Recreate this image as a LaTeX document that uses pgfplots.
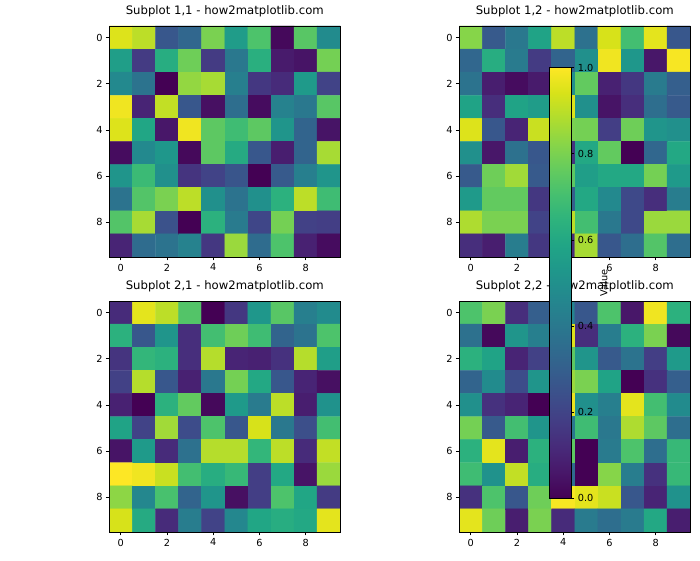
\documentclass[border=0pt]{standalone}
\usepackage{fontspec}
\setmainfont{DejaVu Sans}
\usepackage{pgfplots}
\pgfplotsset{compat=1.18}
\pgfplotsset{
  hm/.style={
    scale only axis, width=237.6pt, height=237.6pt,
    xmin=-0.5, xmax=9.5, ymin=-0.5, ymax=9.5,
    y dir=reverse, enlargelimits=false, axis on top,
    xtick={0,2,4,6,8}, ytick={0,2,4,6,8},
    tick align=outside, tick pos=left, major tick length=3.5pt,
    tick style={black, line width=0.8pt},
    axis line style={black, line width=0.8pt},
    colormap/viridis, point meta min=0, point meta max=1,
    /pgf/number format/assume math mode=true,
    tick label style={font=\fontsize{10}{12}\selectfont},
    title style={font=\fontsize{12}{14}\selectfont, at={(0.5,1)}, anchor=base, yshift=6pt},
  },
  hmplot/.style={matrix plot*, point meta=explicit, mesh/cols=10},
}
\begin{document}
\begin{tikzpicture}
\path[use as bounding box] (0,0) rectangle (720pt,576pt);

\begin{axis}[hm, at={(112.4pt,549.3pt)}, anchor=north west, title={Subplot 1,1 - how2matplotlib.com}]
\addplot[hmplot] coordinates {
(0,0)[0.95] (1,0)[0.90] (2,0)[0.27] (3,0)[0.33] (4,0)[0.80] (5,0)[0.55] (6,0)[0.72] (7,0)[0.02] (8,0)[0.74] (9,0)[0.48]
(0,1)[0.56] (1,1)[0.17] (2,1)[0.62] (3,1)[0.78] (4,1)[0.17] (5,1)[0.40] (6,1)[0.63] (7,1)[0.07] (8,1)[0.05] (9,1)[0.79]
(0,2)[0.47] (1,2)[0.38] (2,2)[0.00] (3,2)[0.84] (4,2)[0.87] (5,2)[0.43] (6,2)[0.16] (7,2)[0.12] (8,2)[0.54] (9,2)[0.20]
(0,3)[0.98] (1,3)[0.10] (2,3)[0.91] (3,3)[0.27] (4,3)[0.04] (5,3)[0.36] (6,3)[0.03] (7,3)[0.44] (8,3)[0.40] (9,3)[0.74]
(0,4)[0.95] (1,4)[0.59] (2,4)[0.06] (3,4)[0.98] (4,4)[0.75] (5,4)[0.69] (6,4)[0.75] (7,4)[0.52] (8,4)[0.32] (9,4)[0.05]
(0,5)[0.03] (1,5)[0.47] (2,5)[0.53] (3,5)[0.02] (4,5)[0.75] (5,5)[0.61] (6,5)[0.27] (7,5)[0.08] (8,5)[0.32] (9,5)[0.87]
(0,6)[0.52] (1,6)[0.68] (2,6)[0.50] (3,6)[0.15] (4,6)[0.20] (5,6)[0.26] (6,6)[0.00] (7,6)[0.28] (8,6)[0.43] (9,6)[0.52]
(0,7)[0.38] (1,7)[0.73] (2,7)[0.80] (3,7)[0.90] (4,7)[0.50] (5,7)[0.38] (6,7)[0.50] (7,7)[0.64] (8,7)[0.90] (9,7)[0.69]
(0,8)[0.73] (1,8)[0.87] (2,8)[0.25] (3,8)[0.00] (4,8)[0.64] (5,8)[0.41] (6,8)[0.21] (7,8)[0.79] (8,8)[0.19] (9,8)[0.18]
(0,9)[0.10] (1,9)[0.35] (2,9)[0.38] (3,9)[0.44] (4,9)[0.16] (5,9)[0.85] (6,9)[0.35] (7,9)[0.72] (8,9)[0.09] (9,9)[0.03]
};
\end{axis}

\begin{axis}[hm, at={(472.4pt,549.3pt)}, anchor=north west, title={Subplot 1,2 - how2matplotlib.com}]
\addplot[hmplot] coordinates {
(0,0)[0.82] (1,0)[0.28] (2,0)[0.40] (3,0)[0.58] (4,0)[0.90] (5,0)[0.37] (6,0)[0.94] (7,0)[0.70] (8,0)[0.96] (9,0)[0.27]
(0,1)[0.33] (1,1)[0.62] (2,1)[0.41] (3,1)[0.17] (4,1)[0.32] (5,1)[0.50] (6,1)[0.98] (7,1)[0.53] (8,1)[0.06] (9,1)[0.99]
(0,2)[0.38] (1,2)[0.08] (2,2)[0.03] (3,2)[0.07] (4,2)[0.50] (5,2)[0.76] (6,2)[0.09] (7,2)[0.16] (8,2)[0.41] (9,2)[0.30]
(0,3)[0.58] (1,3)[0.13] (2,3)[0.58] (3,3)[0.55] (4,3)[0.95] (5,3)[0.50] (6,3)[0.05] (7,3)[0.13] (8,3)[0.36] (9,3)[0.28]
(0,4)[0.95] (1,4)[0.27] (2,4)[0.10] (3,4)[0.92] (4,4)[0.80] (5,4)[0.79] (6,4)[0.18] (7,4)[0.78] (8,4)[0.52] (9,4)[0.50]
(0,5)[0.50] (1,5)[0.06] (2,5)[0.37] (3,5)[0.27] (4,5)[0.15] (5,5)[0.60] (6,5)[0.76] (7,5)[0.00] (8,5)[0.33] (9,5)[0.60]
(0,6)[0.28] (1,6)[0.78] (2,6)[0.86] (3,6)[0.28] (4,6)[0.75] (5,6)[0.56] (6,6)[0.60] (7,6)[0.60] (8,6)[0.79] (9,6)[0.54]
(0,7)[0.54] (1,7)[0.76] (2,7)[0.76] (3,7)[0.16] (4,7)[0.30] (5,7)[0.60] (6,7)[0.47] (7,7)[0.22] (8,7)[0.13] (9,7)[0.42]
(0,8)[0.88] (1,8)[0.80] (2,8)[0.80] (3,8)[0.20] (4,8)[0.90] (5,8)[0.70] (6,8)[0.40] (7,8)[0.22] (8,8)[0.85] (9,8)[0.85]
(0,9)[0.13] (1,9)[0.08] (2,9)[0.42] (3,9)[0.16] (4,9)[0.12] (5,9)[0.87] (6,9)[0.27] (7,9)[0.36] (8,9)[0.73] (9,9)[0.36]
};
\end{axis}

\begin{axis}[hm, at={(112.4pt,266.4pt)}, anchor=north west, title={Subplot 2,1 - how2matplotlib.com}]
\addplot[hmplot] coordinates {
(0,0)[0.12] (1,0)[0.96] (2,0)[0.90] (3,0)[0.73] (4,0)[0.00] (5,0)[0.16] (6,0)[0.53] (7,0)[0.74] (8,0)[0.43] (9,0)[0.48]
(0,1)[0.64] (1,1)[0.27] (2,1)[0.52] (3,1)[0.13] (4,1)[0.70] (5,1)[0.78] (6,1)[0.69] (7,1)[0.32] (8,1)[0.38] (9,1)[0.72]
(0,2)[0.15] (1,2)[0.66] (2,2)[0.64] (3,2)[0.13] (4,2)[0.89] (5,2)[0.10] (6,2)[0.09] (7,2)[0.14] (8,2)[0.89] (9,2)[0.56]
(0,3)[0.19] (1,3)[0.89] (2,3)[0.27] (3,3)[0.09] (4,3)[0.40] (5,3)[0.79] (6,3)[0.60] (7,3)[0.27] (8,3)[0.10] (9,3)[0.04]
(0,4)[0.09] (1,4)[0.00] (2,4)[0.64] (3,4)[0.76] (4,4)[0.02] (5,4)[0.54] (6,4)[0.41] (7,4)[0.90] (8,4)[0.08] (9,4)[0.51]
(0,5)[0.58] (1,5)[0.20] (2,5)[0.86] (3,5)[0.23] (4,5)[0.72] (5,5)[0.27] (6,5)[0.94] (7,5)[0.40] (8,5)[0.24] (9,5)[0.70]
(0,6)[0.05] (1,6)[0.54] (2,6)[0.12] (3,6)[0.37] (4,6)[0.89] (5,6)[0.89] (6,6)[0.66] (7,6)[0.90] (8,6)[0.12] (9,6)[0.91]
(0,7)[1.00] (1,7)[0.98] (2,7)[0.92] (3,7)[0.70] (4,7)[0.62] (5,7)[0.67] (6,7)[0.18] (7,7)[0.60] (8,7)[0.05] (9,7)[0.85]
(0,8)[0.83] (1,8)[0.46] (2,8)[0.71] (3,8)[0.32] (4,8)[0.52] (5,8)[0.04] (6,8)[0.18] (7,8)[0.72] (8,8)[0.59] (9,8)[0.17]
(0,9)[0.94] (1,9)[0.61] (2,9)[0.12] (3,9)[0.42] (4,9)[0.20] (5,9)[0.46] (6,9)[0.59] (7,9)[0.62] (8,9)[0.60] (9,9)[0.96]
};
\end{axis}

\begin{axis}[hm, at={(472.4pt,266.4pt)}, anchor=north west, title={Subplot 2,2 - how2matplotlib.com}]
\addplot[hmplot] coordinates {
(0,0)[0.72] (1,0)[0.80] (2,0)[0.13] (3,0)[0.30] (4,0)[0.45] (5,0)[0.27] (6,0)[0.72] (7,0)[0.06] (8,0)[0.98] (9,0)[0.64]
(0,1)[0.37] (1,1)[0.02] (2,1)[0.52] (3,1)[0.43] (4,1)[0.95] (5,1)[0.13] (6,1)[0.42] (7,1)[0.64] (8,1)[0.80] (9,1)[0.02]
(0,2)[0.64] (1,2)[0.58] (2,2)[0.10] (3,2)[0.19] (4,2)[0.75] (5,2)[0.52] (6,2)[0.28] (7,2)[0.38] (8,2)[0.18] (9,2)[0.54]
(0,3)[0.32] (1,3)[0.48] (2,3)[0.23] (3,3)[0.52] (4,3)[0.85] (5,3)[0.80] (6,3)[0.58] (7,3)[0.00] (8,3)[0.14] (9,3)[0.30]
(0,4)[0.50] (1,4)[0.14] (2,4)[0.10] (3,4)[0.00] (4,4)[0.97] (5,4)[0.50] (6,4)[0.43] (7,4)[0.96] (8,4)[0.70] (9,4)[0.48]
(0,5)[0.79] (1,5)[0.28] (2,5)[0.70] (3,5)[0.52] (4,5)[0.40] (5,5)[0.69] (6,5)[0.40] (7,5)[0.88] (8,5)[0.75] (9,5)[0.36]
(0,6)[0.64] (1,6)[0.96] (2,6)[0.08] (3,6)[0.64] (4,6)[0.75] (5,6)[0.00] (6,6)[0.41] (7,6)[0.72] (8,6)[0.36] (9,6)[0.67]
(0,7)[0.69] (1,7)[0.51] (2,7)[0.91] (3,7)[0.62] (4,7)[0.35] (5,7)[0.00] (6,7)[0.82] (7,7)[0.42] (8,7)[0.14] (9,7)[0.67]
(0,8)[0.14] (1,8)[0.72] (2,8)[0.27] (3,8)[0.78] (4,8)[0.99] (5,8)[0.96] (6,8)[0.92] (7,8)[0.27] (8,8)[0.10] (9,8)[0.51]
(0,9)[0.96] (1,9)[0.78] (2,9)[0.08] (3,9)[0.80] (4,9)[0.12] (5,9)[0.41] (6,9)[0.36] (7,9)[0.41] (8,9)[0.60] (9,9)[0.08]
};
\end{axis}

% colour bar, drawn last so it lies over the panels
\begin{axis}[at={(556.8pt,63.5pt)}, anchor=south west, scale only axis,
  width=22pt, height=442.9pt, hide axis,
  xmin=0, xmax=1, ymin=0, ymax=1,
  colormap/viridis, point meta min=0, point meta max=1,
  colorbar, colorbar/width=22pt,
  colorbar style={
    at={(parent axis.south west)}, anchor=south west,
    height=442.9pt,
    ytick={0,0.2,0.4,0.6,0.8,1},
    ytick pos=right, yticklabel pos=right,
    tick align=outside, major tick length=3.5pt,
    tick style={black, line width=0.8pt},
    axis line style={black, line width=0.8pt},
    /pgf/number format/assume math mode=true,
    yticklabel style={font=\fontsize{10}{12}\selectfont, /pgf/number format/.cd, fixed, fixed zerofill, precision=1},
    ylabel={Value},
    ylabel style={font=\fontsize{10}{12}\selectfont},
  }]
\addplot[draw=none] coordinates {(0.5,0.5)};
\end{axis}
\end{tikzpicture}
\end{document}
